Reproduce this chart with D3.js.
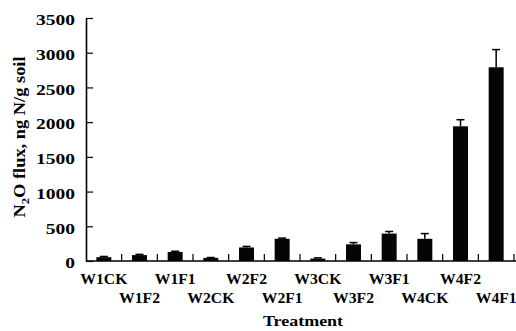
<!DOCTYPE html>
<html>
<head>
<meta charset="utf-8">
<script src="https://cdn.jsdelivr.net/npm/d3@7"></script>
<style>
  body { margin: 0; background: #fff; }
  text { font-family: "Liberation Serif", "Times New Roman", serif; font-weight: bold; fill: #000; }
</style>
</head>
<body>
<script>
// N2O flux per treatment
var treatments = ['W1CK', 'W1F2', 'W1F1', 'W2CK', 'W2F2', 'W2F1',
                  'W3CK', 'W3F2', 'W3F1', 'W4CK', 'W4F2', 'W4F1'];
var flux = [55, 85, 130, 45, 195, 320, 35, 240, 395, 320, 1940, 2790];
var fluxErr = [10, 10, 10, 5, 15, 10, 10, 25, 30, 75, 95, 255];
var yTicks = [0, 500, 1000, 1500, 2000, 2500, 3000, 3500];

var svgWidth = 516;
var svgHeight = 331;
var plotLeft = 86, plotRight = 514, plotTop = 18, plotBottom = 261;

var svg = d3.select('body').append('svg')
  .attr('width', svgWidth)
  .attr('height', svgHeight);

var x = d3.scaleBand()
  .domain(treatments)
  .range([plotLeft, plotRight])
  .paddingInner(0.58)
  .paddingOuter(0.29);

var y = d3.scaleLinear()
  .domain([0, 3500])
  .range([plotBottom, plotTop]);

var step = x.step();

// bars
svg.selectAll('.bar')
  .data(treatments)
  .enter()
  .append('rect')
  .attr('class', 'bar')
  .attr('x', function(d) { return x(d); })
  .attr('y', function(d, i) { return y(flux[i]); })
  .attr('width', x.bandwidth())
  .attr('height', function(d, i) { return plotBottom - y(flux[i]); })
  .style('fill', '#050505');

// error bars (upper only)
var errs = svg.selectAll('.err')
  .data(treatments)
  .enter()
  .append('g')
  .attr('class', 'err');

errs.append('line')
  .attr('x1', function(d) { return x(d) + x.bandwidth() / 2; })
  .attr('x2', function(d) { return x(d) + x.bandwidth() / 2; })
  .attr('y1', function(d, i) { return y(flux[i]); })
  .attr('y2', function(d, i) { return y(flux[i] + fluxErr[i]); })
  .style('stroke', '#000')
  .style('stroke-width', 1.5);

errs.append('line')
  .attr('x1', function(d) { return x(d) + x.bandwidth() / 2 - 4; })
  .attr('x2', function(d) { return x(d) + x.bandwidth() / 2 + 4; })
  .attr('y1', function(d, i) { return y(flux[i] + fluxErr[i]); })
  .attr('y2', function(d, i) { return y(flux[i] + fluxErr[i]); })
  .style('stroke', '#000')
  .style('stroke-width', 1.5);

// y axis, ticks pointing inward
var yAxis = svg.append('g')
  .attr('transform', 'translate(' + plotLeft + ',0)')
  .call(d3.axisLeft(y).tickValues(yTicks).tickFormat(d3.format('d'))
    .tickSizeInner(-7).tickSizeOuter(0).tickPadding(11));

yAxis.select('.domain').style('stroke', '#000').style('stroke-width', 1.6);
yAxis.selectAll('.tick line').style('stroke', '#000').style('stroke-width', 1.2);
yAxis.selectAll('.tick text')
  .attr('x', -11 / 1.3)
  .attr('dy', '0.45em')
  .attr('transform', 'scale(1.3,1)')
  .style('font-size', '15px');

// x axis line
svg.append('line')
  .attr('x1', plotLeft)
  .attr('x2', svgWidth)
  .attr('y1', plotBottom)
  .attr('y2', plotBottom)
  .style('stroke', '#000')
  .style('stroke-width', 1.6);

// x tick marks between categories, pointing up
var bounds = treatments.map(function(d) { return x(d) + x.bandwidth() / 2 + step / 2; });
svg.selectAll('.xtick')
  .data(bounds)
  .enter()
  .append('line')
  .attr('class', 'xtick')
  .attr('x1', function(d) { return d; })
  .attr('x2', function(d) { return d; })
  .attr('y1', plotBottom)
  .attr('y2', plotBottom - 7)
  .style('stroke', '#000')
  .style('stroke-width', 1.2);

// category labels, staggered on two rows
svg.selectAll('.xlabel')
  .data(treatments)
  .enter()
  .append('g')
  .attr('class', 'xlabel')
  .attr('transform', function(d, i) {
    var cy = i % 2 === 0 ? 284 : 303;
    return 'translate(' + (x(d) + x.bandwidth() / 2) + ',' + cy + ') scale(1.12,1)';
  })
  .append('text')
  .attr('text-anchor', 'middle')
  .style('font-size', '14px')
  .text(function(d) { return d; });

// axis titles
svg.append('g')
  .attr('transform', 'translate(303,326) scale(1.2,1)')
  .append('text')
  .attr('text-anchor', 'middle')
  .style('font-size', '15px')
  .text('Treatment');

var yTitle = svg.append('g')
  .attr('transform', 'translate(25,137) rotate(-90) scale(1.15,1)')
  .append('text')
  .attr('text-anchor', 'middle')
  .style('font-size', '16px');

yTitle.append('tspan').text('N');
yTitle.append('tspan').attr('dy', 4).style('font-size', '11px').text('2');
yTitle.append('tspan').attr('dy', -4).text('O flux, ng N/g soil');
</script>
</body>
</html>
